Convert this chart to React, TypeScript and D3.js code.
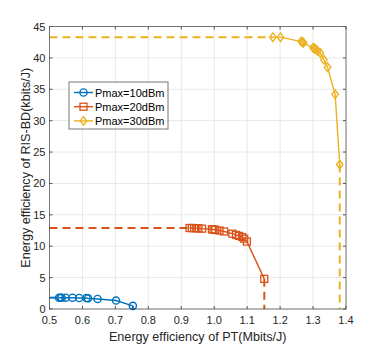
import React from 'react'
import * as d3 from 'd3'

// series
const pt10 = [0.529, 0.533, 0.537, 0.549, 0.57, 0.59, 0.612, 0.617, 0.646, 0.702, 0.753]
const bd10 = [1.8, 1.8, 1.8, 1.8, 1.8, 1.75, 1.75, 1.7, 1.6, 1.35, 0.5]

const pt20 = [0.925, 0.932, 0.939, 0.946, 0.952, 0.963, 0.993, 0.998, 1.003, 1.016, 1.03, 1.055, 1.066, 1.075, 1.085, 1.091, 1.099, 1.152]
const bd20 = [12.9, 12.9, 12.88, 12.87, 12.85, 12.8, 12.7, 12.65, 12.6, 12.5, 12.35, 12.0, 11.8, 11.65, 11.45, 11.2, 10.75, 4.8]

const pt30 = [1.178, 1.201, 1.264, 1.268, 1.271, 1.3, 1.304, 1.308, 1.314, 1.322, 1.333, 1.344, 1.367, 1.381]
const bd30 = [43.3, 43.3, 42.6, 42.5, 42.4, 41.6, 41.5, 41.4, 41.1, 40.8, 39.7, 38.5, 34.2, 23.0]

const legendLabels = ['Pmax=10dBm', 'Pmax=20dBm', 'Pmax=30dBm']
const colors = ['#0072BD', '#D95319', '#EDB120']
const markers = ['circle', 'square', 'diamond']

const xTicks = [0.5, 0.6, 0.7, 0.8, 0.9, 1.0, 1.1, 1.2, 1.3, 1.4]
const yTicks = [0, 5, 10, 15, 20, 25, 30, 35, 40, 45]

const width = 382
const height = 347
const left = 49.5
const right = 346
const top = 26.5
const bottom = 309
const font = '"Liberation Sans", Arial, sans-serif'

function Marker({kind, x, y, color}: {kind: string, x: number, y: number, color: string}) {
  if (kind === 'circle') return <circle cx={x} cy={y} r={3.6} fill="none" stroke={color} strokeWidth={1.4} />
  if (kind === 'square') return <rect x={x - 3.5} y={y - 3.5} width={7} height={7} fill="none" stroke={color} strokeWidth={1.3} />
  const s = 4.3
  return <path d={`M${x},${y - s}L${x + s * 0.75},${y}L${x},${y + s}L${x - s * 0.75},${y}Z`} fill="none" stroke={color} strokeWidth={1.4} />
}

export default function App() {
  const x = d3.scaleLinear().domain([0.5, 1.4]).range([left, right])
  const y = d3.scaleLinear().domain([0, 45]).range([bottom, top])
  const line = d3.line<[number, number]>().x(d => x(d[0])).y(d => y(d[1]))

  const series = [
    {xs: pt10, ys: bd10},
    {xs: pt20, ys: bd20},
    {xs: pt30, ys: bd30},
  ].map(s => s.xs.map((v, i) => [v, s.ys[i]] as [number, number]))

  return <svg width={width} height={height} style={{position: 'absolute', left: 0, top: 0}} fontFamily={font}>
    <rect x={0} y={0} width={width} height={height} fill="white" />
    {/* grid */}
    {xTicks.map(t => <line key={'gx' + t} x1={x(t)} x2={x(t)} y1={top} y2={bottom} stroke="#e8e8e8" strokeWidth={1} />)}
    {yTicks.map(t => <line key={'gy' + t} x1={left} x2={right} y1={y(t)} y2={y(t)} stroke="#e8e8e8" strokeWidth={1} />)}

    {/* dashed guide lines and curves */}
    {series.map((pts, i) => {
      const first = pts[0]
      const last = pts[pts.length - 1]
      const c = colors[i]
      return <g key={i}>
        <path d={line([[0.5, first[1]], first]) || ''} stroke={c} strokeWidth={2} strokeDasharray="8,5" fill="none" />
        <path d={line([last, [last[0], 0]]) || ''} stroke={c} strokeWidth={2} strokeDasharray="8,5" fill="none" />
        <path d={line(pts) || ''} stroke={c} strokeWidth={1.4} fill="none" />
        {pts.map((p, j) => <Marker key={j} kind={markers[i]} x={x(p[0])} y={y(p[1])} color={c} />)}
      </g>
    })}

    {/* axes box */}
    <rect x={left} y={top} width={right - left} height={bottom - top} fill="none" stroke="#262626" strokeOpacity={0.6} strokeWidth={1} />
    {xTicks.map(t => <g key={'tx' + t}>
      <line x1={x(t)} x2={x(t)} y1={bottom} y2={bottom - 3} stroke="#555" />
      <line x1={x(t)} x2={x(t)} y1={top} y2={top + 3} stroke="#555" />
      <text x={x(t)} y={bottom + 14.5} fontSize={11} textAnchor="middle" fill="#262626">{t.toFixed(1)}</text>
    </g>)}
    {yTicks.map(t => <g key={'ty' + t}>
      <line x1={left} x2={left + 3} y1={y(t)} y2={y(t)} stroke="#555" />
      <line x1={right} x2={right - 3} y1={y(t)} y2={y(t)} stroke="#555" />
      <text x={left - 4} y={y(t) + 4} fontSize={11} textAnchor="end" fill="#262626">{t}</text>
    </g>)}

    <text x={(left + right) / 2} y={340.5} fontSize={12.6} textAnchor="middle" fill="#262626">Energy efficiency of PT(Mbits/J)</text>
    <text transform={`translate(29.5,${(top + bottom) / 2}) rotate(-90)`} fontSize={12.6} textAnchor="middle" fill="#262626">Energy efficiency of RIS-BD(kbits/J)</text>

    {/* legend */}
    <g transform="translate(69,82)">
      <rect x={0} y={0} width={99} height={47} fill="white" stroke="#777" strokeWidth={1} />
      {legendLabels.map((lab, i) => {
        const ly = 10.5 + i * 14.2
        return <g key={lab}>
          <line x1={5} x2={24} y1={ly} y2={ly} stroke={colors[i]} strokeWidth={1.4} />
          <Marker kind={markers[i]} x={14.5} y={ly} color={colors[i]} />
          <text x={26} y={ly + 4} fontSize={11} fill="#000">{lab}</text>
        </g>
      })}
    </g>
  </svg>
}
